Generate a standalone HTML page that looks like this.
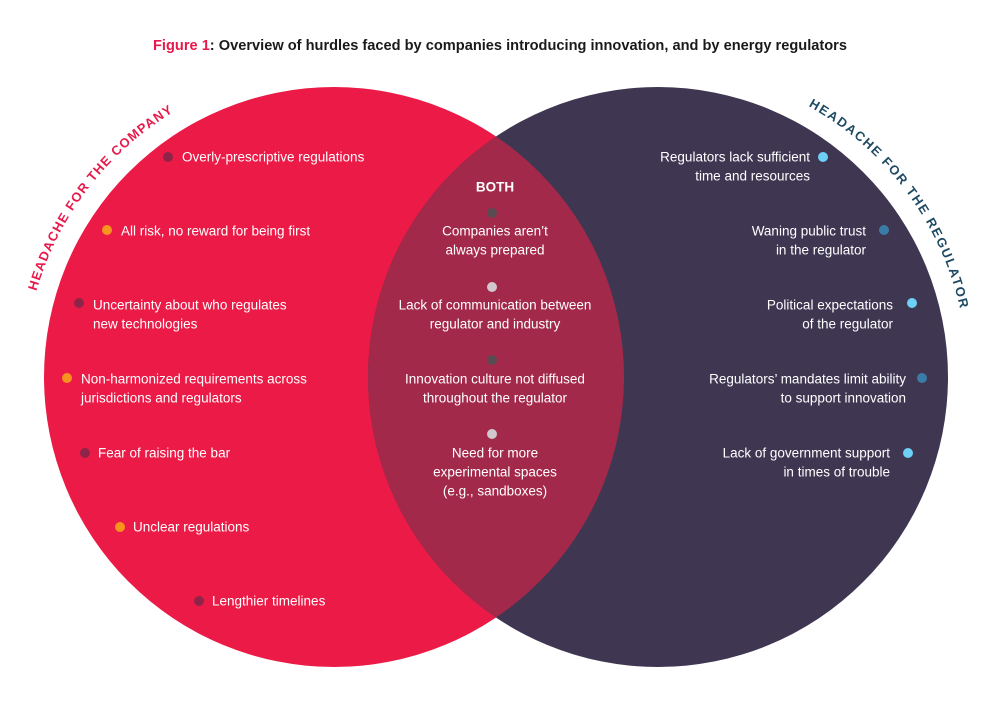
<!DOCTYPE html>
<html><head><meta charset="utf-8"><style>
html,body{margin:0;padding:0;background:#fff;}
svg{display:block;font-family:"Liberation Sans",sans-serif;}
.t{fill:#fff;font-size:13.5px;}
</style></head><body>
<svg width="1000" height="702" viewBox="0 0 1000 702" xmlns="http://www.w3.org/2000/svg">
<defs>
<clipPath id="cl"><circle cx="334" cy="377" r="290"/></clipPath>
<path id="pl" d="M43,483 A310,310 0 0 1 334,67" fill="none"/>
<path id="pr" d="M658,67 A310,310 0 0 1 949,483" fill="none"/>
</defs>
<text x="500" y="50" text-anchor="middle" font-size="14.5" font-weight="bold" fill="#1a1a1a" textLength="694" lengthAdjust="spacingAndGlyphs"><tspan fill="#E8194A">Figure 1</tspan>: Overview of hurdles faced by companies introducing innovation, and by energy regulators</text>
<circle cx="334" cy="377" r="290" fill="#EB1A46"/>
<circle cx="658" cy="377" r="290" fill="#3F3652"/>
<circle cx="658" cy="377" r="290" fill="#A3294B" clip-path="url(#cl)"/>
<text font-size="13" font-weight="bold" fill="#E8194A" letter-spacing="1.5"><textPath href="#pl" startOffset="195" textLength="232">HEADACHE FOR THE COMPANY</textPath></text>
<text font-size="13" font-weight="bold" fill="#1F4A63" letter-spacing="1.5"><textPath href="#pr" startOffset="157" textLength="262">HEADACHE FOR THE REGULATOR</textPath></text>
<g dominant-baseline="central">
<circle cx="168" cy="157" r="5" fill="#8E2447"/><text class="t" x="182" y="157">Overly-prescriptive regulations</text>
<circle cx="107" cy="230" r="5" fill="#F7941D"/><text class="t" x="121" y="231">All risk, no reward for being first</text>
<circle cx="79" cy="303" r="5" fill="#8E2447"/><text class="t" x="93" y="305">Uncertainty about who regulates</text><text class="t" x="93" y="324">new technologies</text>
<circle cx="67" cy="378" r="5" fill="#F7941D"/><text class="t" x="81" y="379">Non-harmonized requirements across</text><text class="t" x="81" y="398">jurisdictions and regulators</text>
<circle cx="85" cy="453" r="5" fill="#8E2447"/><text class="t" x="98" y="453">Fear of raising the bar</text>
<circle cx="120" cy="527" r="5" fill="#F7941D"/><text class="t" x="133" y="527">Unclear regulations</text>
<circle cx="199" cy="601" r="5" fill="#8E2447"/><text class="t" x="212" y="601">Lengthier timelines</text>
</g>
<g dominant-baseline="central" text-anchor="middle">
<text class="t" x="495" y="187" font-weight="bold">BOTH</text>
<circle cx="492" cy="213" r="5" fill="#5a4a52"/>
<text class="t" x="495" y="231">Companies aren’t</text><text class="t" x="495" y="250">always prepared</text>
<circle cx="492" cy="287" r="5" fill="#d0c8cc"/>
<text class="t" x="495" y="305">Lack of communication between</text><text class="t" x="495" y="324">regulator and industry</text>
<circle cx="492" cy="360" r="5" fill="#5a4a52"/>
<text class="t" x="495" y="379">Innovation culture not diffused</text><text class="t" x="495" y="398">throughout the regulator</text>
<circle cx="492" cy="434" r="5" fill="#d0c8cc"/>
<text class="t" x="495" y="453">Need for more</text><text class="t" x="495" y="472">experimental spaces</text><text class="t" x="495" y="491">(e.g., sandboxes)</text>
</g>
<g dominant-baseline="central" text-anchor="end">
<text class="t" x="810" y="157">Regulators lack sufficient</text><text class="t" x="810" y="176">time and resources</text><circle cx="823" cy="157" r="5" fill="#6DD0F7"/>
<text class="t" x="866" y="231">Waning public trust</text><text class="t" x="866" y="250">in the regulator</text><circle cx="884" cy="230" r="5" fill="#3A7CA5"/>
<text class="t" x="893" y="305">Political expectations</text><text class="t" x="893" y="324">of the regulator</text><circle cx="912" cy="303" r="5" fill="#6DD0F7"/>
<text class="t" x="906" y="379">Regulators’ mandates limit ability</text><text class="t" x="906" y="398">to support innovation</text><circle cx="922" cy="378" r="5" fill="#3A7CA5"/>
<text class="t" x="890" y="453">Lack of government support</text><text class="t" x="890" y="472">in times of trouble</text><circle cx="908" cy="453" r="5" fill="#6DD0F7"/>
</g>
</svg>
</body></html>
